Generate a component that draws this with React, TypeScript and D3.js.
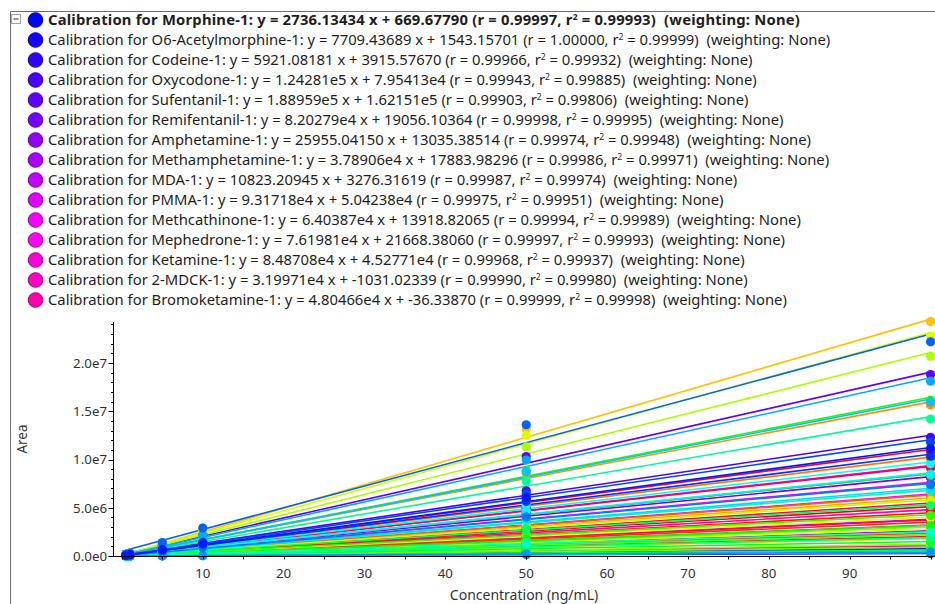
import React from 'react';
import * as d3 from 'd3';

// ---- data ----
const concentrations = [0.5, 1, 5, 10, 50, 100];

const legendNames = [
  'Morphine-1', 'O6-Acetylmorphine-1', 'Codeine-1', 'Oxycodone-1', 'Sufentanil-1',
  'Remifentanil-1', 'Amphetamine-1', 'Methamphetamine-1', 'MDA-1', 'PMMA-1',
  'Methcathinone-1', 'Mephedrone-1', 'Ketamine-1', '2-MDCK-1', 'Bromoketamine-1',
];
const legendSlopes = [
  '2736.13434', '7709.43689', '5921.08181', '1.24281e5', '1.88959e5',
  '8.20279e4', '25955.04150', '3.78906e4', '10823.20945', '9.31718e4',
  '6.40387e4', '7.61981e4', '8.48708e4', '3.19971e4', '4.80466e4',
];
const legendIntercepts = [
  '669.67790', '1543.15701', '3915.57670', '7.95413e4', '1.62151e5',
  '19056.10364', '13035.38514', '17883.98296', '3276.31619', '5.04238e4',
  '13918.82065', '21668.38060', '4.52771e4', '-1031.02339', '-36.33870',
];
const legendR = [
  '0.99997', '1.00000', '0.99966', '0.99943', '0.99903',
  '0.99998', '0.99974', '0.99986', '0.99987', '0.99975',
  '0.99994', '0.99997', '0.99968', '0.99990', '0.99999',
];
const legendR2 = [
  '0.99993', '0.99999', '0.99932', '0.99885', '0.99806',
  '0.99995', '0.99948', '0.99971', '0.99974', '0.99951',
  '0.99989', '0.99993', '0.99937', '0.99980', '0.99998',
];

// further calibrations (below the visible part of the legend)
const otherSlopes = [
  1.10e4, 3.70e4, 5.50e4, 9.25e4, 2.00e4, 1.10e5, 5.10e4, 4.50e4, 3.50e4, 2.35e4,
  6.30e4, 1.02e5, 1.59e5, 6.00e4, 2.45e5, 1.80e4, 4.00e4, 2.80e4, 2.31e5, 5.80e4,
  2.10e5, 1.20e4, 3.00e4, 9.00e3, 2.20e4, 4.25e4, 1.64e5, 3.20e4, 8.50e4, 1.50e4,
  6.00e3, 5.30e4, 1.90e4, 1.44e5, 6.80e4, 2.50e4, 3.50e3, 9.70e4, 8.60e4, 7.00e4,
  1.62e5, 1.84e5, 4.00e3, 7.50e4, 2.25e5, 1.20e5, 1.05e5, 1.12e5,
];
const otherIntercepts = [
  1.2e3, 2.8e4, -5.0e3, 4.1e4, 6.5e3, 3.3e4, 1.9e4, -2.2e4, 8.8e3, 1.4e4,
  2.6e4, 5.1e4, 7.4e4, 1.1e4, 4.9e4, 3.6e3, 2.0e4, -7.5e3, 6.2e4, 1.7e4,
  8.1e4, 2.4e3, 1.2e4, 9.0e2, 5.5e3, 2.9e4, 5.8e4, -1.3e4, 3.9e4, 4.7e3,
  1.1e3, 2.2e4, 6.9e3, 4.4e4, 3.0e4, 1.5e4, 6.0e2, 4.6e4, 3.4e4, 2.7e4,
  6.6e4, 7.9e4, 8.0e2, 3.1e4, 5.0e5, 5.2e4, 4.3e4, 3.8e4,
];

// measured areas (millions) at each concentration, one row per calibration
const responses = [
  [0.002, 0.003, 0.016, 0.032, 0.148, 0.27],
  [0.005, 0.009, 0.045, 0.091, 0.417, 0.76],
  [0.004, 0.007, 0.035, 0.070, 0.322, 0.587],
  [0.075, 0.15, 0.725, 1.48, 6.75, 12.3],
  [0.114, 0.229, 1.11, 2.25, 10.3, 18.8],
  [0.049, 0.099, 0.477, 0.97, 4.44, 8.1],
  [0.016, 0.031, 0.151, 0.308, 1.41, 2.57],
  [0.023, 0.046, 0.221, 0.45, 2.06, 3.75],
  [0.007, 0.013, 0.063, 0.129, 0.589, 1.07],
  [0.056, 0.112, 0.543, 1.11, 5.06, 9.23],
  [0.039, 0.077, 0.372, 0.758, 3.47, 6.32],
  [0.046, 0.092, 0.443, 0.902, 4.13, 7.53],
  [0.051, 0.102, 0.495, 1.01, 4.61, 8.4],
  [0.019, 0.038, 0.186, 0.378, 1.73, 3.15],
  [0.029, 0.058, 0.278, 0.566, 2.59, 4.73],
  [0.007, 0.013, 0.064, 0.13, 0.594, 1.08],
  [0.022, 0.044, 0.215, 0.437, 2.0, 3.64],
  [0.033, 0.066, 0.319, 0.649, 2.97, 5.42],
  [0.056, 0.111, 0.537, 1.09, 5.0, 9.11],
  [0.012, 0.024, 0.116, 0.236, 1.08, 1.97],
  [0.066, 0.132, 0.638, 1.3, 5.94, 10.8],
  [0.031, 0.061, 0.296, 0.602, 2.75, 5.02],
  [0.027, 0.054, 0.261, 0.531, 2.43, 4.43],
  [0.021, 0.042, 0.203, 0.413, 1.89, 3.45],
  [0.014, 0.028, 0.136, 0.277, 1.27, 2.31],
  [0.038, 0.076, 0.365, 0.743, 3.4, 6.21],
  [0.061, 0.122, 0.592, 1.2, 5.51, 10.05],
  [0.095, 0.191, 0.922, 1.88, 8.59, 15.66],
  [0.036, 0.072, 0.348, 0.708, 3.24, 5.91],
  [0.146, 0.293, 1.42, 2.88, 13.2, 24.3],
  [0.011, 0.022, 0.104, 0.212, 0.972, 1.77],
  [0.024, 0.048, 0.232, 0.472, 2.16, 3.94],
  [0.017, 0.034, 0.162, 0.33, 1.51, 2.76],
  [0.139, 0.277, 1.34, 2.73, 12.5, 22.8],
  [0.035, 0.07, 0.336, 0.684, 3.13, 5.71],
  [0.126, 0.252, 1.22, 2.48, 11.3, 20.7],
  [0.007, 0.014, 0.07, 0.142, 0.648, 1.18],
  [0.018, 0.036, 0.174, 0.354, 1.62, 2.96],
  [0.005, 0.011, 0.052, 0.106, 0.486, 0.887],
  [0.013, 0.026, 0.128, 0.26, 1.19, 2.17],
  [0.026, 0.051, 0.247, 0.502, 2.3, 4.19],
  [0.098, 0.197, 0.951, 1.94, 8.86, 16.15],
  [0.019, 0.038, 0.186, 0.378, 1.73, 3.15],
  [0.051, 0.102, 0.493, 1.0, 4.59, 8.37],
  [0.009, 0.018, 0.087, 0.177, 0.81, 1.48],
  [0.004, 0.007, 0.035, 0.071, 0.324, 0.591],
  [0.032, 0.064, 0.307, 0.625, 2.86, 5.22],
  [0.011, 0.023, 0.11, 0.224, 1.03, 1.87],
  [0.086, 0.173, 0.835, 1.7, 7.78, 14.2],
  [0.041, 0.082, 0.394, 0.802, 3.67, 6.7],
  [0.015, 0.03, 0.145, 0.295, 1.35, 2.46],
  [0.002, 0.004, 0.02, 0.041, 0.189, 0.345],
  [0.058, 0.116, 0.563, 1.14, 5.24, 9.55],
  [0.052, 0.103, 0.499, 1.01, 4.64, 8.47],
  [0.042, 0.084, 0.406, 0.826, 3.78, 6.9],
  [0.097, 0.194, 0.94, 1.91, 8.75, 15.96],
  [0.11, 0.221, 1.07, 2.17, 9.94, 18.12],
  [0.002, 0.005, 0.023, 0.047, 0.216, 0.394],
  [0.045, 0.09, 0.435, 0.885, 4.05, 7.39],
  [0.14, 0.28, 1.4, 2.9, 13.6, 22.2],
  [0.072, 0.144, 0.696, 1.42, 6.48, 11.8],
  [0.063, 0.126, 0.609, 1.24, 5.67, 10.34],
  [0.068, 0.136, 0.655, 1.33, 6.1, 11.13],
];

const xTickValues = [0, 5, 10, 15, 20, 25, 30, 35, 40, 45, 50, 55, 60, 65, 70, 75, 80, 85, 90, 95, 100];
const xTickLabels = [10, 20, 30, 40, 50, 60, 70, 80, 90];
const yTickLabels = [0, 5e6, 1e7, 1.5e7, 2e7];
const yMinorStep = 1e6;
const xTitle = 'Concentration (ng/mL)';
const yTitle = 'Area';

const FONT = "'Noto Sans', 'Open Sans', sans-serif";
const LEGEND_SIZE = 14.8;

export default function App() {
  const W = 935, H = 604;
  const slopes = [...legendSlopes.map(Number), ...otherSlopes];
  const intercepts = [...legendIntercepts.map(Number), ...otherIntercepts];
  const n = responses.length;
  const color = (i: number) => d3.hsl((240 + (i * 360) / n) % 360, 1, 0.5).formatHex();

  const AX = 113;
  const x = d3.scaleLinear().domain([-1.1, 100.55]).range([AX, 935]);
  const y = d3.scaleLinear().domain([0, 2.425e7]).range([556, 322]);
  const fmt = (v: number) => d3.format('.1e')(v).replace('+', '');
  const minorY = d3.range(0, y.domain()[1], yMinorStep);
  const py = (v: number) => Math.round(y(v)) + 0.5;

  return (
    <svg width={W} height={H} style={{ position: 'absolute', left: 0, top: 0, background: '#fff' }} fontFamily={FONT}>
      <rect x={0} y={0} width={W} height={H} fill="#fff" />
      {/* frame */}
      <line x1={10.5} y1={11.5} x2={W} y2={11.5} stroke="#6d6d6d" />
      <line x1={10.5} y1={11.5} x2={10.5} y2={H} stroke="#6d6d6d" />
      <rect x={11.5} y={14.5} width={9} height={9} fill="#fff" stroke="#a0a0a0" />
      <line x1={13.5} y1={19} x2={18.5} y2={19} stroke="#333" />

      {/* legend */}
      {legendNames.map((name, i) => {
        const cy = 20 + i * 20;
        const c = color(i);
        return (
          <g key={name}>
            <circle cx={35.5} cy={cy} r={7.3} fill={c} stroke={d3.color(c)!.darker(1.2).formatHex()} strokeWidth={1} />
            <text
              x={48}
              y={cy + 5.3}
              fontSize={LEGEND_SIZE}
              fontWeight={i === 0 ? 'bold' : 'normal'}
              letterSpacing={i === 0 ? 0.2 : 0}
              fill="#1e1e1e"
              style={{ whiteSpace: 'pre' }}
            >
              {`Calibration for ${name}: y = ${legendSlopes[i]} x + ${legendIntercepts[i]} (r = ${legendR[i]}, r`}
              <tspan dy={-5.5} fontSize={8.5}>2</tspan>
              <tspan dy={5.5}>{` = ${legendR2[i]})  (weighting: None)`}</tspan>
            </text>
          </g>
        );
      })}

      {/* calibration lines */}
      {slopes.map((s, i) => (
        <path
          key={'l' + i}
          d={d3.line<number>().x((c) => x(c)).y((c) => y(s * c + intercepts[i]))([0, 100]) || ''}
          fill="none"
          stroke={color(i)}
          strokeWidth={1.6}
        />
      ))}

      {/* points */}
      {responses.map((row, i) => (
        <g key={'p' + i} fill={color(i)}>
          {row.map((v, j) => (
            <circle key={j} cx={x(concentrations[j])} cy={y(v * 1e6)} r={4.6} />
          ))}
        </g>
      ))}

      {/* y axis */}
      <line x1={AX + 0.5} y1={322} x2={AX + 0.5} y2={556.5} stroke="#000" />
      {minorY.map((v) => (
        <line key={'ym' + v} x1={AX - 2} x2={AX + 0.5} y1={py(v)} y2={py(v)} stroke="#000" />
      ))}
      {yTickLabels.map((v) => (
        <g key={'yt' + v}>
          <line x1={AX - 4.5} x2={AX + 0.5} y1={py(v)} y2={py(v)} stroke="#000" />
          <text x={107} y={y(v) + 4.8} textAnchor="end" fontSize={13.3} fill="#333">{fmt(v)}</text>
        </g>
      ))}
      <text transform={`translate(27,${(322 + 556) / 2}) rotate(-90)`} textAnchor="middle" fontSize={13.5} fill="#333">{yTitle}</text>

      {/* x axis */}
      <line x1={AX} y1={556.5} x2={W} y2={556.5} stroke="#000" />
      {xTickValues.map((v) => (
        <line key={'xt' + v} x1={Math.round(x(v)) + 0.5} x2={Math.round(x(v)) + 0.5} y1={556.5} y2={559.5} stroke="#000" />
      ))}
      {xTickLabels.map((v) => (
        <text key={'xl' + v} x={x(v)} y={578} textAnchor="middle" fontSize={13.3} fill="#333">{v}</text>
      ))}
      <text x={(AX + W) / 2} y={600} textAnchor="middle" fontSize={14} fill="#333">{xTitle}</text>
    </svg>
  );
}
